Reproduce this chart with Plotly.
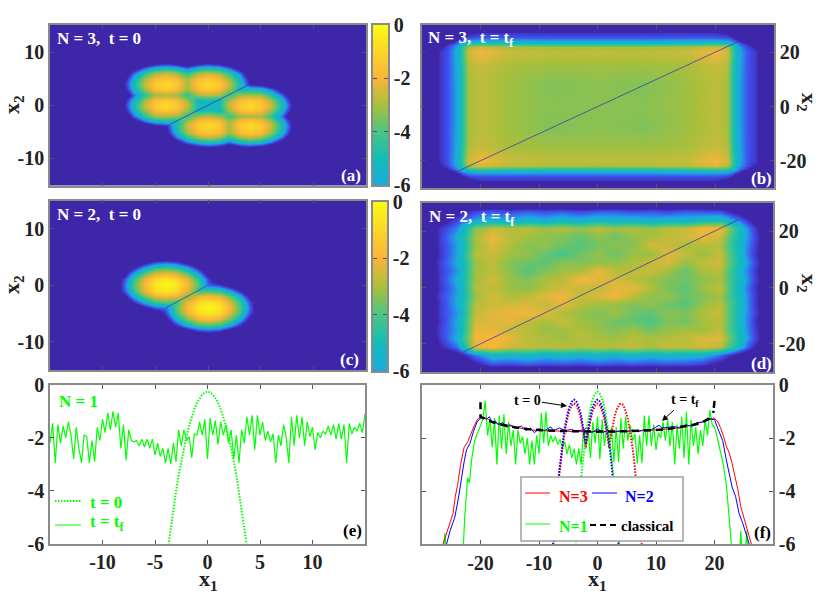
import numpy as np
import plotly.graph_objects as go

W, H = 830, 595

# colour levels (dark floor is below the -6 end of the bar)
colors = [[0, '#3e26a8'], [0.125, '#4050f0'], [0.25, '#1caadf'], [0.375, '#12bcb8'], [0.5, '#48c584'],
          [0.625, '#a8bf3c'], [0.75, '#f9b43a'], [0.875, '#fbd528'], [1, '#f9fb15']]
Z_LOW, Z_HIGH = -8, 0
bar_levels = [-6, -5, -4, -3, -2, -1, 0]

# panel (a), rows from x2=9 down to x2=0, columns x1=-9..9
grid_a = list(range(-9, 10))
rows_a = [
    [-10] * 19,
    [-10, -10, -10, -9.8, -8.5, -8, -8.5, -9.8, -8.5, -8, -8.5, -9.8, -10, -10, -10, -10, -10, -10, -10],
    [-10, -10, -8.9, -6.7, -5.3, -4.9, -5.3, -6.7, -5.3, -4.9, -5.3, -6.7, -8.9, -10, -10, -10, -10, -10, -10],
    [-10, -9.8, -6.7, -4.4, -3.1, -2.6, -3.1, -4.4, -3.1, -2.6, -3.1, -4.4, -6.7, -9.8, -10, -10, -10, -10, -10],
    [-10, -8.5, -5.3, -3.1, -1.7, -1.3, -1.7, -3.1, -1.7, -1.3, -1.7, -3.1, -5.3, -8.5, -10, -10, -10, -10, -10],
    [-10, -8, -4.9, -2.6, -1.3, -0.8, -1.3, -3, -1.3, -0.8, -1.3, -2.6, -4.9, -8, -8.5, -9.8, -10, -10, -10],
    [-10, -8.5, -5.3, -3.1, -1.7, -1.3, -1.7, -3.1, -1.7, -1.3, -1.7, -3.1, -5.3, -4.9, -5.3, -6.7, -8.9, -10, -10],
    [-10, -9.8, -6.7, -4.4, -3.1, -3, -3.1, -4.4, -3.1, -2.8, -3.1, -4.4, -3.1, -3, -3.1, -4.4, -6.7, -9.8, -10],
    [-10, -8.5, -5.3, -3.1, -1.7, -1.3, -1.7, -3.1, -5.3, -4.9, -5.3, -3.1, -1.7, -1.3, -1.7, -3.1, -5.3, -8.5, -10],
    [-10, -8, -4.9, -2.6, -1.3, -0.8, -1.3, -2.6, -4.9, -5.5, -4.9, -2.6, -1.3, -0.8, -1.3, -2.6, -4.9, -8, -10],
]
rows_a = rows_a + [r[::-1] for r in rows_a[-2::-1]]

# panel (c), rows from x2=5 down to x2=-9, columns x1=-9..5
grid_c = list(range(-9, 6))
rows_c = [
    [-10] * 15,
    [-10, -10, -10, -8.5, -7.2, -6.8, -7.2, -8.5, -10, -10, -10, -10, -10, -10, -10],
    [-10, -10, -7.7, -5.6, -4.3, -3.9, -4.3, -5.6, -7.7, -10, -10, -10, -10, -10, -10],
    [-10, -8.5, -5.6, -3.5, -2.2, -1.8, -2.2, -3.5, -5.6, -8.5, -10, -10, -10, -10, -10],
    [-10, -7.2, -4.3, -2.2, -0.9, -0.5, -0.9, -2.2, -4.3, -7.2, -10, -10, -10, -10, -10],
    [-10, -6.8, -3.9, -1.8, -0.5, -0.1, -0.5, -1.8, -3.9, -6.8, -7.2, -8.5, -10, -10, -10],
    [-10, -7.2, -4.3, -2.2, -0.9, -0.5, -0.9, -2.2, -4.3, -3.9, -4.3, -5.6, -7.7, -10, -10],
    [-10, -8.5, -5.6, -3.5, -2.2, -1.8, -2.2, -3.5, -2.2, -1.8, -2.2, -3.5, -5.6, -8.5, -10],
    [-10, -10, -7.7, -5.6, -4.3, -3.9, -4.3, -2.2, -0.9, -0.5, -0.9, -2.2, -4.3, -7.2, -10],
    [-10, -10, -10, -8.5, -7.2, -6.8, -3.9, -1.8, -0.5, -0.1, -0.5, -1.8, -3.9, -6.8, -10],
    [-10, -10, -10, -10, -10, -7.2, -4.3, -2.2, -0.9, -0.5, -0.9, -2.2, -4.3, -7.2, -10],
    [-10, -10, -10, -10, -10, -8.5, -5.6, -3.5, -2.2, -1.8, -2.2, -3.5, -5.6, -8.5, -10],
    [-10, -10, -10, -10, -10, -10, -7.7, -5.6, -4.3, -3.9, -4.3, -5.6, -7.7, -10, -10],
    [-10, -10, -10, -10, -10, -10, -10, -8.5, -7.2, -6.8, -7.2, -8.5, -10, -10, -10],
    [-10] * 15,
]

# panel (b), one quadrant, it is close to symmetric
grid_b = [0, 8, 15, 20, 22, 23, 24, 25.5, 27, 28, 30]
quad_b = [
    [-3.3, -3.3, -3.1, -2.7, -3.0, -4.6, -6.0, -7.0, -7.6, -10, -10],
    [-3.3, -3.4, -3.1, -2.75, -3.0, -4.6, -6.0, -7.0, -7.6, -10, -10],
    [-3.1, -3.1, -3.0, -2.6, -2.9, -4.5, -5.9, -7.0, -7.6, -10, -10],
    [-2.7, -2.75, -2.6, -2.05, -2.5, -4.2, -5.8, -7.0, -7.6, -10, -10],
    [-3.0, -3.0, -2.9, -2.5, -2.9, -4.4, -6.0, -7.2, -8.2, -10, -10],
    [-4.6, -4.6, -4.5, -4.2, -4.4, -5.2, -6.5, -7.8, -10, -10, -10],
    [-6.0, -6.0, -5.9, -5.8, -6.0, -6.5, -7.4, -10, -10, -10, -10],
    [-7.0, -7.0, -7.0, -7.0, -7.2, -7.8, -10, -10, -10, -10, -10],
    [-7.6, -7.6, -7.6, -7.6, -8.2, -10, -10, -10, -10, -10, -10],
    [-10] * 11,
    [-10] * 11,
]

# panel (d), rows from x2=30 down to x2=-30, columns x1=-30..30
grid_d = list(range(-30, 31, 3))
rows_d = [
    [-10] * 21,
    [-10, -10, -8.5, -7.4, -7.0, -7.3, -6.9, -7.2, -7.0, -7.3, -7.0, -6.9, -7.2, -7.0, -7.3, -6.9, -7.1, -7.2, -8.6, -10, -10],
    [-10, -8.8, -7.2, -6.0, -5.6, -5.9, -5.5, -5.8, -5.4, -5.7, -5.3, -5.6, -5.4, -5.8, -5.5, -5.7, -5.2, -5.0, -6.5, -8.5, -10],
    [-10, -7.6, -6.4, -3.4, -2.7, -2.9, -2.8, -3.1, -2.9, -3.2, -2.8, -3.1, -2.9, -3.2, -2.8, -2.7, -2.1, -2.0, -4.8, -7.5, -10],
    [-10, -7.4, -5.8, -3.0, -2.1, -2.8, -3.0, -3.3, -3.4, -3.7, -3.3, -3.6, -3.2, -3.0, -2.7, -2.5, -2.2, -2.6, -5.0, -7.2, -10],
    [-10, -7.5, -6.1, -3.1, -2.4, -2.9, -3.4, -3.2, -3.6, -3.9, -3.5, -3.3, -3.4, -2.5, -2.6, -3.0, -2.8, -2.9, -5.2, -7.4, -10],
    [-10, -7.6, -6.0, -2.8, -2.6, -3.1, -3.2, -3.7, -4.1, -3.6, -3.2, -3.6, -3.1, -3.2, -2.3, -2.7, -3.2, -2.6, -5.1, -7.6, -10],
    [-10, -7.3, -5.9, -3.2, -2.7, -3.4, -3.6, -3.8, -3.3, -3.4, -3.3, -3.2, -3.0, -2.6, -2.4, -3.2, -2.7, -2.5, -4.9, -7.2, -10],
    [-10, -7.5, -6.2, -3.0, -2.8, -3.3, -3.9, -3.4, -3.1, -3.0, -2.2, -2.8, -2.7, -2.6, -3.1, -3.7, -3.0, -2.8, -5.2, -7.5, -10],
    [-10, -7.4, -5.8, -3.1, -2.5, -3.2, -3.4, -3.0, -2.8, -2.0, -2.3, -2.4, -2.8, -3.1, -3.4, -3.6, -3.3, -3.0, -5.0, -7.3, -10],
    [-10, -7.6, -6.1, -2.9, -2.7, -3.1, -3.3, -2.8, -2.5, -2.6, -2.7, -2.3, -2.2, -2.9, -3.5, -3.8, -3.1, -2.7, -5.3, -7.6, -10],
    [-10, -7.3, -6.0, -3.2, -2.4, -3.0, -2.7, -2.3, -2.1, -2.7, -2.4, -2.0, -2.8, -3.3, -3.2, -3.7, -3.4, -3.0, -5.1, -7.4, -10],
    [-10, -7.5, -5.9, -2.8, -2.6, -2.5, -2.4, -2.7, -2.2, -2.8, -3.1, -3.2, -3.4, -3.2, -3.6, -3.9, -3.2, -2.8, -4.9, -7.5, -10],
    [-10, -7.4, -6.2, -2.7, -2.3, -2.2, -2.1, -2.3, -2.9, -3.2, -3.4, -3.1, -3.6, -3.8, -3.3, -3.4, -2.9, -2.6, -5.2, -7.3, -10],
    [-10, -7.6, -5.9, -2.5, -2.4, -2.2, -2.7, -3.0, -2.6, -3.1, -3.3, -3.6, -3.7, -4.0, -3.4, -3.6, -3.0, -2.8, -5.0, -7.6, -10],
    [-10, -7.3, -6.1, -2.3, -2.2, -2.6, -2.8, -3.2, -3.1, -2.9, -3.2, -3.4, -3.1, -3.5, -3.2, -3.0, -3.1, -2.7, -5.1, -7.4, -10],
    [-10, -7.5, -5.7, -2.1, -1.9, -2.2, -2.8, -2.9, -3.1, -2.8, -3.0, -3.1, -2.8, -3.0, -2.8, -2.7, -2.4, -2.3, -4.8, -7.2, -10],
    [-10, -8.0, -6.6, -2.2, -2.0, -2.6, -2.7, -2.9, -2.8, -3.0, -2.8, -2.9, -2.7, -3.0, -2.7, -2.8, -2.5, -2.8, -5.2, -8.0, -10],
    [-10, -10, -8.6, -6.6, -5.4, -5.5, -5.3, -5.7, -5.4, -5.6, -5.4, -5.7, -5.3, -5.6, -5.4, -5.5, -5.7, -6.6, -8.4, -10, -10],
    [-10, -10, -10, -8.2, -7.0, -7.2, -6.9, -7.1, -7.0, -7.2, -6.9, -7.1, -7.0, -7.2, -7.0, -7.1, -7.4, -8.4, -10, -10, -10],
    [-10] * 21,
]

# ends of the node line x1=x2 in each map
node_a = [-4, 4]
node_b = [-24, 24]
node_c = [-4, 0]
node_d = [-23, 24]

# panel (e) N=1, t=t_f, x1 from -15 to 15 every 0.25
n1_tf_e = [-2.2, -1.45, -2.95, -1.5, -2.2, -1.55, -2.0, -1.4, -1.9, -2.8, -1.6, -2.4, -2.95, -1.9, -1.95, -2.95,
           -2.1, -2.9, -1.6, -2.1, -1.3, -1.8, -1.05, -1.7, -1.0, -1.6, -1.05, -2.4, -1.5, -2.85, -1.7, -2.1,
           -2.15, -2.1, -2.3, -2.05, -2.35, -2.05, -2.4, -2.05, -2.65, -2.2, -2.7, -2.4, -2.95, -2.4, -3.0, -2.2,
           -2.9, -1.7, -2.3, -1.7, -2.1, -1.95, -2.75, -1.85, -1.9, -1.4, -1.9, -1.3, -2.8, -1.25, -1.9, -1.35,
           -2.25, -1.4, -1.9, -1.5, -2.2, -1.7, -2.8, -1.9, -2.95, -1.7, -2.2, -1.2, -1.9, -1.15, -2.45, -1.15,
           -1.9, -1.4, -2.1, -1.75, -2.15, -1.85, -2.95, -1.9, -2.3, -1.5, -2.0, -2.95, -1.2, -2.3, -1.15, -2.0,
           -1.2, -2.3, -1.4, -1.95, -1.6, -2.45, -1.8, -2.0, -1.75, -1.85, -1.55, -1.9, -1.5, -2.05, -1.45, -2.05,
           -1.5, -2.95, -1.45, -1.85, -1.6, -1.75, -1.45, -1.8, -1.1]

# N=1, t=0, x1 from -3.75 to 3.75 every 0.25
n1_t0_y = [-6.16, -5.4, -4.69, -4.03, -3.43, -2.88, -2.38, -1.93, -1.54, -1.2, -0.91, -0.67, -0.49, -0.36, -0.28,
           -0.25, -0.28, -0.36, -0.49, -0.67, -0.91, -1.2, -1.54, -1.93, -2.38, -2.88, -3.43, -4.03, -4.69, -5.4, -6.16]

# N=2, t=0, x1 from -7.75 to 3.75 every 0.25
n2_t0_y = [-6.46, -5.7, -4.99, -4.33, -3.73, -3.18, -2.68, -2.23, -1.84, -1.5, -1.21, -0.97, -0.79, -0.66, -0.58,
           -0.55, -0.58, -0.66, -0.79, -0.97, -1.21, -1.5, -1.84, -2.23, -1.84, -1.5, -1.21, -0.97, -0.79, -0.66, -0.58,
           -0.55, -0.58, -0.66, -0.79, -0.97, -1.21, -1.5, -1.84, -2.23, -2.68, -3.18, -3.73, -4.33, -4.99, -5.7, -6.46]

# N=3, t=0, x1 from -7.75 to 7.75 every 0.25
n3_t0_y = [-6.6, -5.85, -5.14, -4.48, -3.88, -3.33, -2.83, -2.38, -1.99, -1.65, -1.36, -1.12, -0.94, -0.8, -0.73,
           -0.7, -0.73, -0.8, -0.94, -1.12, -1.36, -1.65, -1.99, -2.38, -1.99, -1.65, -1.36, -1.12, -0.94, -0.8, -0.73,
           -0.7, -0.73, -0.8, -0.94, -1.12, -1.36, -1.65, -1.99, -2.38, -1.99, -1.65, -1.36, -1.12, -0.94, -0.8, -0.73,
           -0.7, -0.73, -0.8, -0.94, -1.12, -1.36, -1.65, -1.99, -2.38, -2.83, -3.33, -3.88, -4.48, -5.14, -5.85, -6.6]

# panel (f) t=t_f curves
n1_left_x = [-26.4, -26.1, -25.8, -23.0, -22.7, -22.4, -22.2, -21.9, -21.5, -21, -20.5]
n1_left_y = [-6.4, -5.6, -6.4, -6.4, -5, -3.8, -3.5, -3.7, -2.8, -2.1, -1.8]
n1_mid_y = [-1.5, -1.3, -0.6, -1.9, -1.3, -2.35, -1.25, -3.0, -1.15, -2.4, -1.1, -2.6, -1.4, -2.3, -1.7, -3.0,
            -1.7, -2.2, -1.95, -2.6, -2.0, -3.0, -2.1, -3.0, -1.9, -2.6, -1.05, -2.2, -1.0, -2.3, -1.9, -2.15,
            -1.95, -2.25, -2.05, -2.35, -2.15, -2.6, -2.25, -2.75, -2.4, -3.0, -2.4, -3.0, -1.7, -2.4, -1.65, -2.75,
            -1.4, -2.2, -1.2, -2.8, -1.3, -2.3, -1.5, -2.2, -1.6, -2.9, -1.6, -2.9, -1.25, -2.4, -1.2, -2.1,
            -1.5, -2.1, -1.85, -2.95, -1.9, -2.95, -1.15, -2.3, -1.15, -2.3, -1.5, -2.45, -1.8, -2.0, -1.4, -2.1,
            -1.3, -2.3, -1.4, -3.0, -1.5, -2.4, -1.2, -2.75, -1.0, -3.0, -1.3, -2.3, -1.6, -2.6, -1.7, -2.3,
            -1.3, -1.9, -0.95, -1.5, -1.6]
n1_right_x = [20.4, 21, 21.5, 22, 22.5, 23, 24.3, 24.5, 24.7, 25.3, 25.5, 25.7]
n1_right_y = [-1.9, -2.5, -3, -3.7, -4.8, -6.3, -6.3, -5.5, -6.3, -6.3, -5.5, -6.3]

n3_x = [-27, -26.4, -25.5, -24.7, -24.3, -23.9, -23.4, -22.8, -22.2, -21.5, -21, -20.5, -20, -19, -18, -17, -16, -14,
        -12, -10, -8, -6, -4, -2, 0, 2, 4, 6, 8, 10, 12, 14, 16, 17, 18, 19, 20, 20.6, 21, 21.5, 22, 22.5, 23, 23.5,
        24, 24.5, 25, 25.5, 26.3, 27]
n3_y = [-6.4, -6, -5.4, -4.85, -4.2, -3.75, -3.0, -2.35, -2.15, -1.75, -1.5, -1.28, -1.22, -1.25, -1.38, -1.45, -1.5, -1.6,
        -1.68, -1.72, -1.72, -1.74, -1.76, -1.76, -1.76, -1.76, -1.76, -1.74, -1.72, -1.7, -1.66, -1.62, -1.52, -1.46, -1.38,
        -1.28, -1.25, -1.4, -1.6, -1.9, -2.3, -2.55, -2.95, -3.4, -3.95, -4.6, -5.0, -5.4, -6, -6.4]

n2_x = [-26.5, -25.8, -25.2, -24.4, -23.8, -23.3, -22.8, -22.4, -21.8, -21.2, -20.6, -20, -19.5, -19, -18.5, -18, -17.5,
        -17, -16.2, -15.5, -15, -14, -13, -12.2, -11.5, -10.8, -10, -9, -8, -7.5, -6.5, -5.5, -4.5, -3.5, -2.5, -1.8, -1,
        0, 1, 2, 3, 4, 5, 6, 7, 8, 9, 10.5, 11, 12, 13, 14, 15, 16, 17, 18, 18.8, 19.5, 20, 20.4, 20.8, 21.4, 22, 22.5,
        23, 23.6, 24.2, 24.8, 25.4, 25.9, 26.5]
n2_y = [-6.4, -6, -5.5, -5.0, -4.3, -3.5, -2.9, -2.45, -2.2, -1.75, -1.4, -1.25, -1.22, -1.3, -1.2, -1.4, -1.35,
        -1.5, -1.42, -1.6, -1.5, -1.62, -1.55, -1.72, -1.62, -1.8, -1.65, -1.72, -1.58, -1.72, -1.62, -1.72, -1.68, -1.74, -1.7, -1.62, -1.8,
        -1.66, -1.78, -1.72, -1.78, -1.72, -1.76, -1.7, -1.76, -1.68, -1.72, -1.52, -1.62, -1.6, -1.56, -1.62, -1.5, -1.55, -1.42, -1.4, -1.25, -1.3, -1.3, -1.55, -1.75, -2.1, -2.8, -3.4,
        -3.85, -4.2, -4.85, -5.2, -5.6, -6, -6.4]

classical_x = [-20, -20, -19.5, -19, -18, -17, -16, -14, -12, -10, -7, -4, 0, 4, 7, 10, 12, 14, 16, 17, 18, 19, 19.5]
classical_y = [-0.65, -1.2, -1.25, -1.3, -1.4, -1.47, -1.52, -1.6, -1.66, -1.7, -1.73, -1.75, -1.76, -1.75, -1.73, -1.7, -1.66,
               -1.6, -1.52, -1.47, -1.4, -1.28, -1.12]
classical_end_x = [20, 19.8]
classical_end_y = [-0.6, -1.05]

RED, BLUE, GREEN, INK, EDGE = '#ff0000', '#0000ff', '#00ff00', '#222222', '#8a8a8a'
SERIF = 'Liberation Serif'
tick_font = dict(family=SERIF, size=20, color=INK, weight=700)


def dom_x(a, b):
    return [a / W, b / W]


def dom_y(top, bottom):
    return [1 - bottom / H, 1 - top / H]


def ticks(values, show=True):
    # plain hyphen labels, as in the picture
    return dict(tickmode='array', tickvals=values, ticktext=[str(v) for v in values], showticklabels=show)


def axis(domain, anchor, **kw):
    base = dict(domain=domain, anchor=anchor, showline=True, linecolor=EDGE, linewidth=1.5, mirror='ticks',
                ticks='inside', ticklen=4, tickcolor='#555555', tickwidth=1, showgrid=False, zeroline=False,
                tickfont=tick_font, automargin=False)
    base.update(kw)
    return base


def heat(x, y, rows, n):
    return go.Heatmap(x=x, y=y, z=np.array(rows)[::-1], zmin=Z_LOW, zmax=Z_HIGH, colorscale=colors, zsmooth='best',
                      showscale=False, xaxis='x%d' % n, yaxis='y%d' % n, hoverinfo='skip')


def node(ends, n):
    return go.Scatter(x=ends, y=ends, mode='lines', line=dict(color='#3e3cb0', width=0.8), xaxis='x%d' % n,
                      yaxis='y%d' % n, showlegend=False)


fig = go.Figure()

# maps
fig.add_trace(heat(grid_a, grid_a, rows_a, 1))
fig.add_trace(node(node_a, 1))

quad = np.array(quad_b)
half = np.hstack([quad[:, :0:-1], quad])
full_b = np.vstack([half[:0:-1], half])[::-1]
axis_b = [-u for u in grid_b[:0:-1]] + grid_b
fig.add_trace(heat(axis_b, axis_b, full_b, 2))
fig.add_trace(node(node_b, 2))

fig.add_trace(heat(grid_c, grid_c, rows_c, 3))
fig.add_trace(node(node_c, 3))

fig.add_trace(heat(grid_d, grid_d, rows_d, 4))
fig.add_trace(node(node_d, 4))

# colour bars
for n in (7, 8):
    fig.add_trace(go.Heatmap(x=[0, 1], y=bar_levels, z=[[v, v] for v in bar_levels], zmin=Z_LOW, zmax=Z_HIGH,
                             colorscale=colors, zsmooth='best', showscale=False, xaxis='x%d' % n, yaxis='y%d' % n,
                             hoverinfo='skip'))


def line(x, y, color, n, dash='solid', width=1.2):
    fig.add_trace(go.Scatter(x=x, y=y, mode='lines', line=dict(color=color, width=width, dash=dash),
                             xaxis='x%d' % n, yaxis='y%d' % n, showlegend=False))


# panel (e)
line(np.arange(-15, 15.01, 0.25), n1_tf_e, GREEN, 5)
line(np.arange(-3.75, 3.76, 0.25), n1_t0_y, GREEN, 5, dash='1.5px,1.5px', width=2)

# panel (f)
n1_x = np.concatenate([n1_left_x, np.linspace(-20, 20, len(n1_mid_y)), n1_right_x])
n1_y = np.concatenate([n1_left_y, n1_mid_y, n1_right_y])
line(n1_x, n1_y, GREEN, 6)
line(n3_x, n3_y, RED, 6, width=1)
line(n2_x, n2_y, BLUE, 6, width=1)
line(np.arange(-7.75, 7.76, 0.25), n3_t0_y, RED, 6, dash='1.5px,1.5px', width=2)
line(np.arange(-3.75, 3.76, 0.25), n1_t0_y, GREEN, 6, dash='1.5px,1.5px', width=2)
line(np.arange(-7.75, 3.76, 0.25), n2_t0_y, BLUE, 6, dash='1.5px,1.5px', width=2)
line(classical_x, classical_y, 'black', 6, dash='7px,5px', width=2.5)
line(classical_end_x, classical_end_y, 'black', 6, dash='7px,3px', width=2.5)

map_x = ticks([-10, -5, 0, 5, 10], show=False)
wide_x = ticks([-20, -10, 0, 10, 20], show=False)
level_y = dict(range=[-6, 0], **ticks([-6, -4, -2, 0]))

fig.update_layout(
    width=W, height=H, margin=dict(l=0, r=0, t=0, b=0, pad=0), paper_bgcolor='white', plot_bgcolor='white',
    showlegend=False,
    xaxis=axis(dom_x(50, 366), 'y', range=[-15, 15], **map_x),
    yaxis=axis(dom_y(25, 185.5), 'x', range=[-15.2, 15.2], **ticks([-10, 0, 10])),
    xaxis2=axis(dom_x(421.5, 774), 'y2', range=[-30, 30], **wide_x),
    yaxis2=axis(dom_y(25, 188), 'x2', range=[-30, 30], side='right', **ticks([-20, 0, 20])),
    xaxis3=axis(dom_x(50, 366), 'y3', range=[-15, 15], **map_x),
    yaxis3=axis(dom_y(200.5, 370), 'x3', range=[-15, 15], **ticks([-10, 0, 10])),
    xaxis4=axis(dom_x(422, 773), 'y4', range=[-30, 30], **wide_x),
    yaxis4=axis(dom_y(203, 372), 'x4', range=[-30, 30], side='right', **ticks([-20, 0, 20])),
    xaxis5=axis(dom_x(50, 365), 'y5', range=[-15, 15], **ticks([-10, -5, 0, 5, 10])),
    yaxis5=axis(dom_y(385, 543.5), 'x5', **level_y),
    xaxis6=axis(dom_x(422, 773), 'y6', range=[-30, 30], **ticks([-20, -10, 0, 10, 20])),
    yaxis6=axis(dom_y(385, 544), 'x6', side='right', **level_y),
    xaxis7=axis(dom_x(373, 388), 'y7', range=[0, 1], showticklabels=False, ticks=''),
    yaxis7=axis(dom_y(25, 185), 'x7', side='right', **level_y),
    xaxis8=axis(dom_x(373, 387), 'y8', range=[0, 1], showticklabels=False, ticks=''),
    yaxis8=axis(dom_y(202, 371), 'x8', side='right', **level_y),
)

# dark floor behind the four maps
for xr, yr in (('x', 'y'), ('x2', 'y2'), ('x3', 'y3'), ('x4', 'y4')):
    fig.add_shape(type='rect', xref=xr + ' domain', yref=yr + ' domain', x0=0, x1=1, y0=0, y1=1,
                  fillcolor='#3e26a8', line_width=0, layer='below')


def px(x):
    return x / W


def py(y):
    return 1 - y / H


def label(x, y, text, color='white', size=17, xanchor='left', angle=0):
    fig.add_annotation(xref='paper', yref='paper', x=px(x), y=py(y), text=text, showarrow=False, textangle=angle,
                       xanchor=xanchor, yanchor='middle',
                       font=dict(family=SERIF, size=size, color=color, weight=700))


def key_line(x0, x1, y, color, dash='solid', width=1):
    fig.add_shape(type='line', xref='paper', yref='paper', x0=px(x0), x1=px(x1), y0=py(y), y1=py(y), layer='above',
                  line=dict(color=color, width=width, dash=dash))


label(55, 39, 'N = 3,&nbsp;&nbsp;t = 0')
label(426, 39, 'N = 3,&nbsp;&nbsp;t = t<sub>f</sub>')
label(55, 214, 'N = 2,&nbsp;&nbsp;t = 0')
label(427, 218, 'N = 2,&nbsp;&nbsp;t = t<sub>f</sub>')
label(351, 175, '(a)', xanchor='center')
label(761, 178, '(b)', xanchor='center')
label(349, 359, '(c)', xanchor='center')
label(761, 363, '(d)', xanchor='center')
label(352, 530, '(e)', color='black', xanchor='center')
label(762, 532, '(f)', color='black', xanchor='center')

label(13, 105, 'x<sub>2</sub>', color=INK, size=22, xanchor='center', angle=-90)
label(13, 285, 'x<sub>2</sub>', color=INK, size=22, xanchor='center', angle=-90)
label(808, 102, 'x<sub>2</sub>', color=INK, size=22, xanchor='center', angle=90)
label(808, 283, 'x<sub>2</sub>', color=INK, size=22, xanchor='center', angle=90)
label(208, 580, 'x<sub>1</sub>', color=INK, size=22, xanchor='center')
label(597, 580, 'x<sub>1</sub>', color=INK, size=22, xanchor='center')

# key of panel (e)
label(57, 401, 'N = 1', color=GREEN)
key_line(55, 81, 501, GREEN, dash='1.5px,1.5px', width=2)
label(88, 502, 't = 0', color=GREEN)
key_line(55, 81, 525, GREEN)
label(88, 523, 't = t<sub>f</sub>', color=GREEN)

# key of panel (f)
fig.add_shape(type='rect', xref='paper', yref='paper', x0=px(521), x1=px(683), y0=py(541), y1=py(477), layer='above',
              fillcolor='white', line=dict(color='#a0a0a0', width=1.5))
key_line(525, 550, 493, RED)
label(557, 496, 'N=3', color=RED, size=16)
key_line(592, 617, 493, BLUE)
label(623, 496, 'N=2', color=BLUE, size=16)
key_line(525, 550, 524, GREEN)
label(557, 526, 'N=1', color=GREEN, size=16)
key_line(590, 617, 525, 'black', dash='6px,4px', width=2)
label(619, 526, 'classical', color='black', size=15)

# arrows of panel (f)
for tip_x, tip_y, ax, ay, text in [(567, 406, -40, -6, 't = 0'), (662, 421, 23, -21, 't = t<sub>f</sub>')]:
    fig.add_annotation(xref='paper', yref='paper', x=px(tip_x), y=py(tip_y), ax=ax, ay=ay, text=text, showarrow=True,
                       arrowhead=2, arrowsize=1.2, arrowwidth=1, arrowcolor='black',
                       font=dict(family=SERIF, size=14, color='black', weight=700))

fig.write_html("out.html", config=dict(displayModeBar=False), post_script="document.body.style.margin='0';")
